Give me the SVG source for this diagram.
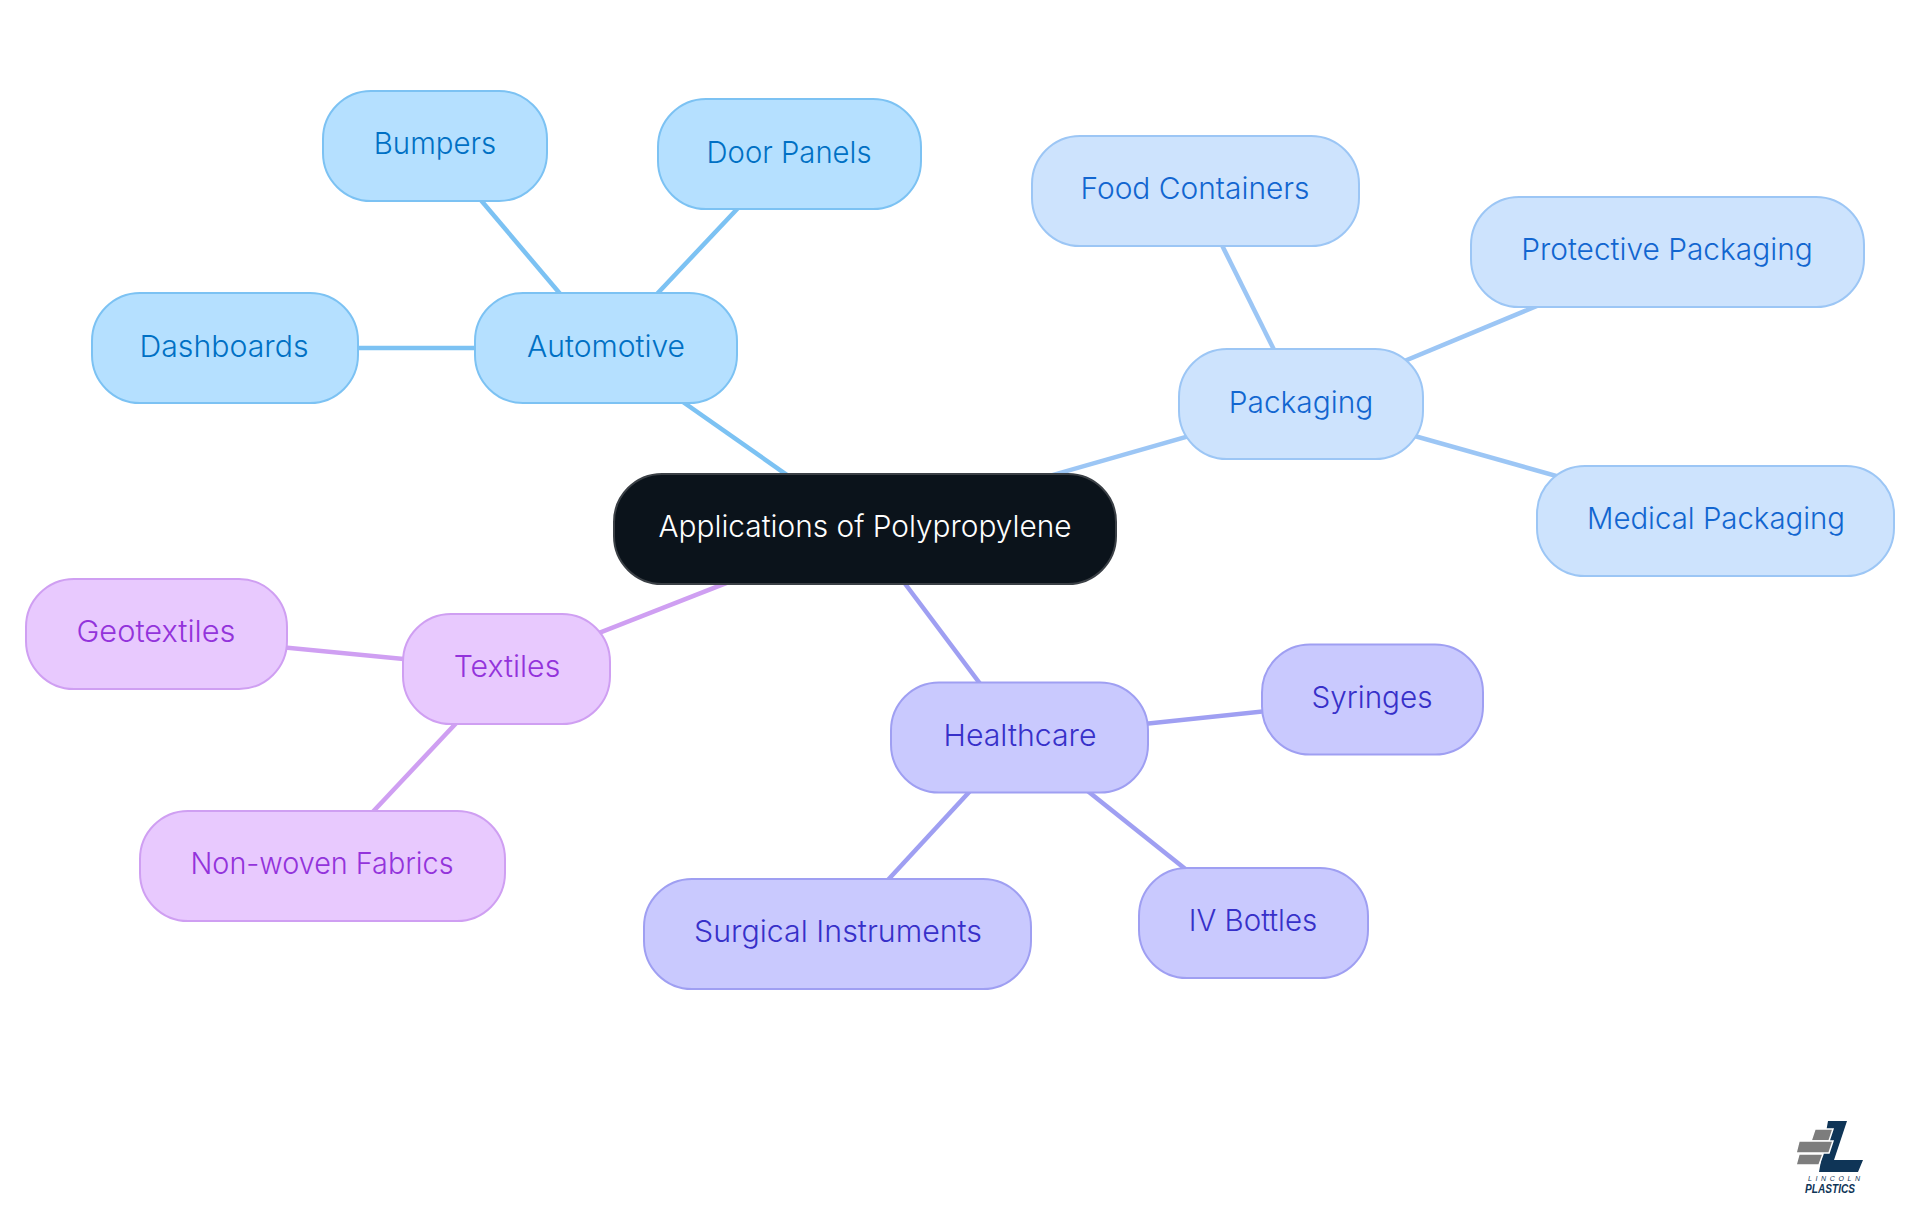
<svg xmlns="http://www.w3.org/2000/svg" width="1920" height="1215" viewBox="0 0 1920 1215">
<style>
text{font-family:"Inter","Noto Sans","Liberation Sans",sans-serif;font-size:30px;text-anchor:middle;font-weight:360}
rect{stroke-width:2}
.c line{stroke-width:4.5;fill:none}
.a rect{fill:#b5e0ff;stroke:#7cc2f3}.a text{fill:#0070c4}
.p rect{fill:#cde3fd;stroke:#9cc6f5}.p text{fill:#1266d0}
.h rect{fill:#c9c9fe;stroke:#9f9ff2}.h text{fill:#3730c9}
.t rect{fill:#e8c9fe;stroke:#cf9ff2}.t text{fill:#9333db}
.r rect{fill:#0b131b;stroke:#3b4046}.r text{fill:#fff}
.lg{font-style:italic;fill:#0f3557;font-family:"Liberation Sans",sans-serif}
</style>
<rect width="1920" height="1215" fill="#fff" stroke="none"/>
<g id="connectors" class="c">
<g stroke="#7cc2f3"><line x1="864" y1="529" x2="606" y2="348"/><line x1="606" y1="348" x2="435" y2="146"/><line x1="606" y1="348" x2="789" y2="154"/><line x1="606" y1="348" x2="225" y2="348"/></g>
<g stroke="#9cc6f5"><line x1="864" y1="529" x2="1301" y2="404"/><line x1="1301" y1="404" x2="1195" y2="191"/><line x1="1301" y1="404" x2="1667" y2="252"/><line x1="1301" y1="404" x2="1716" y2="521"/></g>
<g stroke="#9f9ff2"><line x1="864" y1="529" x2="1020" y2="737"/><line x1="1020" y1="737" x2="1372" y2="700"/><line x1="1020" y1="737" x2="1253" y2="923"/><line x1="1020" y1="737" x2="838" y2="934"/></g>
<g stroke="#cf9ff2"><line x1="864" y1="529" x2="507" y2="669"/><line x1="507" y1="669" x2="156" y2="635"/><line x1="507" y1="669" x2="322" y2="866"/></g>
</g>
<g id="root" class="r"><rect x="614" y="474" width="502" height="110" rx="48"/><text x="865" y="537" textLength="413" lengthAdjust="spacingAndGlyphs">Applications of Polypropylene</text></g>
<g id="automotive" class="a"><rect x="475" y="293" width="262" height="110" rx="48"/><text x="606" y="357" textLength="158" lengthAdjust="spacingAndGlyphs">Automotive</text></g>
<g id="bumpers" class="a"><rect x="323" y="91" width="224" height="110" rx="48"/><text x="435" y="154" textLength="122.5" lengthAdjust="spacingAndGlyphs">Bumpers</text></g>
<g id="door-panels" class="a"><rect x="658" y="99" width="263" height="110" rx="48"/><text x="789" y="163" textLength="165" lengthAdjust="spacingAndGlyphs">Door Panels</text></g>
<g id="dashboards" class="a"><rect x="92" y="293" width="266" height="110" rx="48"/><text x="224" y="357" textLength="169" lengthAdjust="spacingAndGlyphs">Dashboards</text></g>
<g id="packaging" class="p"><rect x="1179" y="349" width="244" height="110" rx="48"/><text x="1301" y="413" textLength="144.5" lengthAdjust="spacingAndGlyphs">Packaging</text></g>
<g id="food-containers" class="p"><rect x="1032" y="136" width="327" height="110" rx="48"/><text x="1195" y="199" textLength="229" lengthAdjust="spacingAndGlyphs">Food Containers</text></g>
<g id="protective-packaging" class="p"><rect x="1471" y="197" width="393" height="110" rx="48"/><text x="1667" y="260" textLength="291.5" lengthAdjust="spacingAndGlyphs">Protective Packaging</text></g>
<g id="medical-packaging" class="p"><rect x="1537" y="466" width="357" height="110" rx="48"/><text x="1716" y="529" textLength="258" lengthAdjust="spacingAndGlyphs">Medical Packaging</text></g>
<g id="healthcare" class="h"><rect x="891" y="682.500" width="257" height="110" rx="48"/><text x="1020" y="746" textLength="153" lengthAdjust="spacingAndGlyphs">Healthcare</text></g>
<g id="syringes" class="h"><rect x="1262" y="644.500" width="221" height="110" rx="48"/><text x="1372" y="708" textLength="121" lengthAdjust="spacingAndGlyphs">Syringes</text></g>
<g id="iv-bottles" class="h"><rect x="1139" y="868" width="229" height="110" rx="48"/><text x="1253" y="931" textLength="128.500" lengthAdjust="spacingAndGlyphs">IV Bottles</text></g>
<g id="surgical-instruments" class="h"><rect x="644" y="879" width="387" height="110" rx="48"/><text x="838" y="942" textLength="288" lengthAdjust="spacingAndGlyphs">Surgical Instruments</text></g>
<g id="textiles" class="t"><rect x="403" y="614" width="207" height="110" rx="48"/><text x="507" y="677" textLength="106.500" lengthAdjust="spacingAndGlyphs">Textiles</text></g>
<g id="geotextiles" class="t"><rect x="26" y="579" width="261" height="110" rx="48"/><text x="156" y="642" textLength="159" lengthAdjust="spacingAndGlyphs">Geotextiles</text></g>
<g id="non-woven-fabrics" class="t"><rect x="140" y="811" width="365" height="110" rx="48"/><text x="322" y="874" textLength="263" lengthAdjust="spacingAndGlyphs">Non-woven Fabrics</text></g>
<g id="logo">
<polygon points="1828,1121 1847,1121 1834,1160 1863,1160 1858,1172 1819,1172" fill="#0f3557"/>
<g fill="#7d7d7d" stroke="#fff" stroke-width="1.5"><polygon points="1815,1129 1833,1129 1829,1141 1811,1141"/><polygon points="1799,1141 1833,1141 1829,1153 1796,1153"/><polygon points="1799,1154 1823,1154 1819,1165 1796,1165"/></g>
<text class="lg" x="1834" y="1181" style="font-size:7px;font-weight:400" textLength="52">LINCOLN</text>
<text class="lg" x="1830" y="1193" style="font-size:13px;font-weight:700" textLength="50" lengthAdjust="spacingAndGlyphs">PLASTICS</text>
</g>
</svg>
